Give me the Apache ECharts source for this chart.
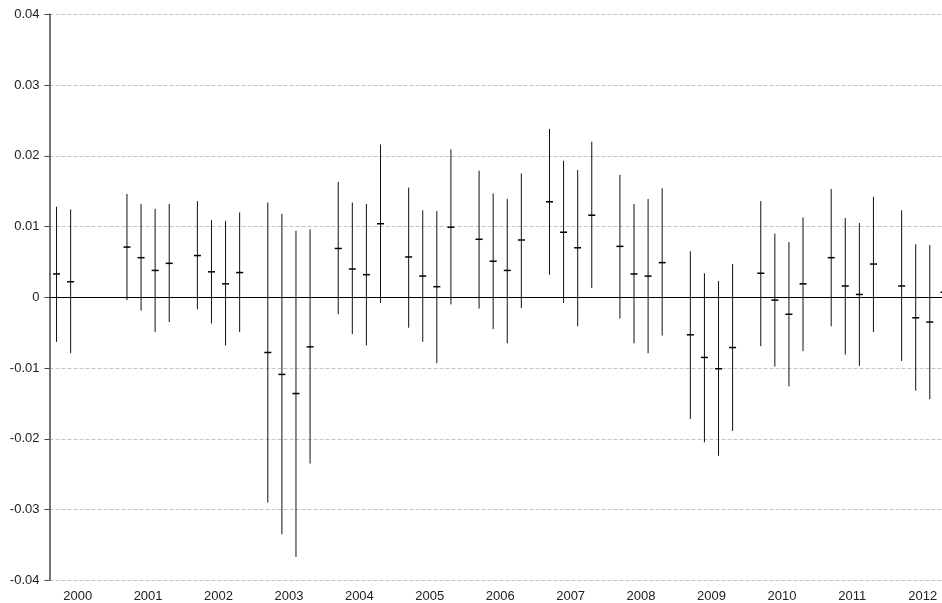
<!DOCTYPE html>
<html>
<head>
    <meta charset="utf-8">
    <title>Quarterly range chart</title>
    <script src="https://cdn.jsdelivr.net/npm/echarts@6/dist/echarts.min.js"></script>
    <style>
        html, body { margin: 0; padding: 0; background: #fff; }
    </style>
</head>
<body>
    <div id="main" style="width: 942px;height:603px;"></div>
    <script type="text/javascript">
        var myChart = echarts.init(document.getElementById('main'));

        // years on the axis, four quarters each (null = no data)
        const years = ['2000', '2001', '2002', '2003', '2004', '2005', '2006',
            '2007', '2008', '2009', '2010', '2011', '2012'];

        const highs = [
            0.0128, 0.0124, null, null,
            0.0146, 0.0132, 0.0125, 0.0132,
            0.0136, 0.0109, 0.0108, 0.0120,
            0.0134, 0.0118, 0.0094, 0.0096,
            0.0163, 0.0134, 0.0132, 0.0216,
            0.0155, 0.0123, 0.0122, 0.0209,
            0.0179, 0.0147, 0.0139, 0.0175,
            0.0238, 0.0193, 0.0180, 0.0220,
            0.0173, 0.0132, 0.0139, 0.0154,
            0.0065, 0.0034, 0.0023, 0.0047,
            0.0136, 0.0090, 0.0078, 0.0113,
            0.0153, 0.0112, 0.0105, 0.0142,
            0.0123, 0.0075, 0.0074, 0.0100
        ];

        const means = [
            0.0033, 0.0022, null, null,
            0.0071, 0.0056, 0.0038, 0.0048,
            0.0059, 0.0036, 0.0019, 0.0035,
            -0.0078, -0.0109, -0.0136, -0.0070,
            0.0069, 0.0040, 0.0032, 0.0104,
            0.0057, 0.0030, 0.0015, 0.0099,
            0.0082, 0.0051, 0.0038, 0.0081,
            0.0135, 0.0092, 0.0070, 0.0116,
            0.0072, 0.0033, 0.0030, 0.0049,
            -0.0053, -0.0085, -0.0101, -0.0071,
            0.0034, -0.0004, -0.0024, 0.0019,
            0.0056, 0.0016, 0.0004, 0.0047,
            0.0016, -0.0029, -0.0035, 0.0007
        ];

        const lows = [
            -0.0063, -0.0079, null, null,
            -0.0004, -0.0019, -0.0049, -0.0035,
            -0.0017, -0.0037, -0.0068, -0.0049,
            -0.0290, -0.0335, -0.0367, -0.0235,
            -0.0024, -0.0052, -0.0068, -0.0008,
            -0.0043, -0.0063, -0.0093, -0.0010,
            -0.0016, -0.0045, -0.0065, -0.0015,
            0.0032, -0.0008, -0.0041, 0.0013,
            -0.0030, -0.0065, -0.0079, -0.0054,
            -0.0172, -0.0205, -0.0224, -0.0189,
            -0.0069, -0.0098, -0.0126, -0.0076,
            -0.0041, -0.0081, -0.0097, -0.0049,
            -0.0090, -0.0132, -0.0144, -0.0090
        ];

        // five slots per year: Q1..Q4 and one empty gap
        const slotsPerYear = 5;
        const totalSlots = years.length * slotsPerYear;

        const rangeData = [];
        for (let i = 0; i < highs.length; i++) {
            if (highs[i] === null) continue;
            const slot = Math.floor(i / 4) * slotsPerYear + (i % 4);
            rangeData.push([slot + 0.5, highs[i], means[i], lows[i]]);
        }

        const font = "'Liberation Sans', Arial, sans-serif";

        var option = {
            animation: false,
            backgroundColor: '#fff',
            grid: {
                left: 49.5,
                top: 14.3,
                width: 915.5,
                height: 566,
                outerBoundsMode: 'none',
                containLabel: false
            },
            xAxis: {
                type: 'value',
                min: 0,
                max: totalSlots,
                interval: 1,
                axisLine: { show: false, onZero: false },
                axisTick: { show: false },
                splitLine: { show: false },
                axisLabel: {
                    margin: 10,
                    fontFamily: font,
                    fontSize: 13,
                    color: '#222',
                    formatter: function (v) {
                        const k = v - 2;
                        if (k >= 0 && k % slotsPerYear === 0) {
                            return years[k / slotsPerYear] || '';
                        }
                        return '';
                    }
                }
            },
            yAxis: {
                type: 'value',
                min: -0.04,
                max: 0.04,
                interval: 0.01,
                axisLine: { show: true, lineStyle: { color: '#444', width: 1.5 } },
                axisTick: { show: true, length: 5, lineStyle: { color: '#444' } },
                splitLine: {
                    show: true,
                    lineStyle: { color: '#c4c4c4', type: 'dashed', width: 1 }
                },
                axisLabel: {
                    margin: 10,
                    fontFamily: font,
                    fontSize: 13,
                    color: '#222'
                }
            },
            series: [{
                type: 'custom',
                data: rangeData,
                encode: { x: 0, y: [1, 2, 3] },
                renderItem: function (params, api) {
                    const x = api.value(0);
                    const top = api.coord([x, api.value(1)]);
                    const mid = api.coord([x, api.value(2)]);
                    const bottom = api.coord([x, api.value(3)]);
                    return {
                        type: 'group',
                        children: [{
                            type: 'line',
                            shape: { x1: top[0], y1: top[1], x2: bottom[0], y2: bottom[1] },
                            style: { stroke: '#111', lineWidth: 1 }
                        }, {
                            type: 'line',
                            shape: { x1: mid[0] - 3.5, y1: mid[1], x2: mid[0] + 3.5, y2: mid[1] },
                            style: { stroke: '#000', lineWidth: 1.5 }
                        }]
                    };
                },
                markLine: {
                    silent: true,
                    symbol: 'none',
                    label: { show: false },
                    lineStyle: { color: '#000', type: 'solid', width: 1 },
                    data: [{ yAxis: 0 }]
                }
            }]
        };

        myChart.setOption(option);
    </script>
</body>
</html>
